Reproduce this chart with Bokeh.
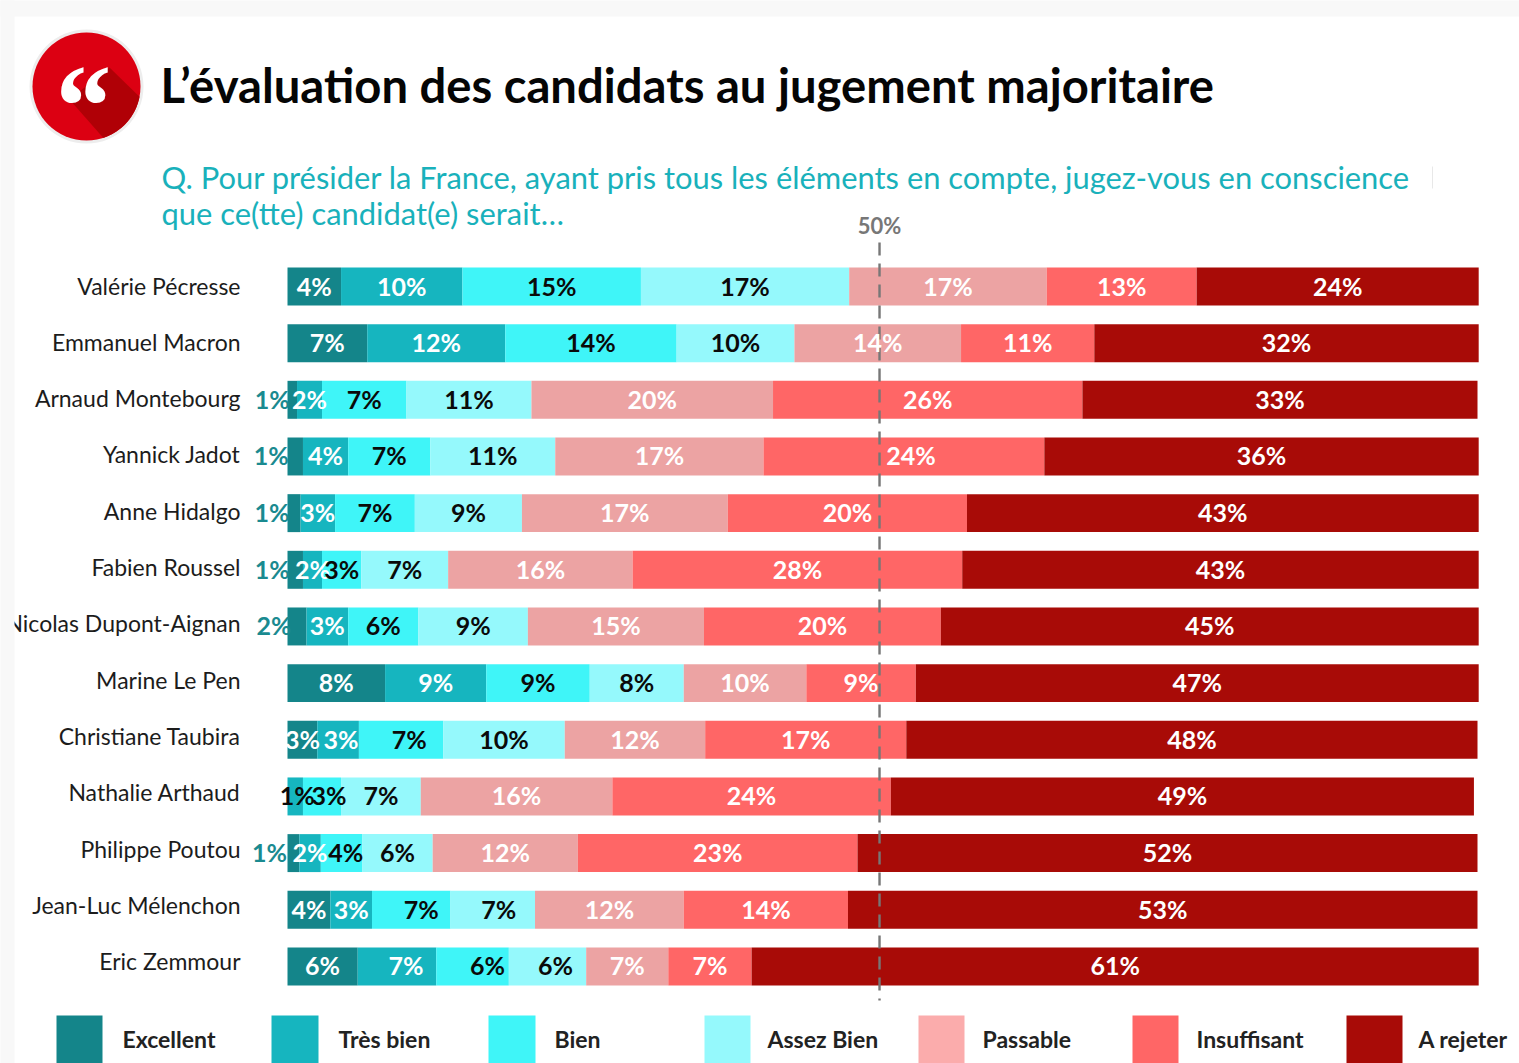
import numpy as np
from bokeh.plotting import figure
from bokeh.models import Range1d
from bokeh.core.properties import value
from bokeh.embed import file_html
from bokeh.resources import INLINE

title = "L’évaluation des candidats au jugement majoritaire"
question = ["Q. Pour présider la France, ayant pris tous les éléments en compte, jugez-vous en conscience",
            "que ce(tte) candidat(e) serait…"]
candidates = ["Valérie Pécresse", "Emmanuel Macron", "Arnaud Montebourg", "Yannick Jadot", "Anne Hidalgo",
              "Fabien Roussel", "Nicolas Dupont-Aignan", "Marine Le Pen", "Christiane Taubira",
              "Nathalie Arthaud", "Philippe Poutou", "Jean-Luc Mélenchon", "Eric Zemmour"]
grades = ["Excellent", "Très bien", "Bien", "Assez Bien", "Passable", "Insuffisant", "A rejeter"]
# segment lengths (percent of bar length)
excellent = [4.5, 6.7, 0.8, 1.3, 1.1, 1.3, 1.6, 8.2, 2.5, 0.0, 1.0, 3.6, 5.9]
tres_bien = [10.2, 11.6, 2.1, 3.8, 2.9, 1.6, 3.5, 8.5, 3.5, 1.3, 1.8, 3.5, 6.6]
bien = [15.0, 14.4, 7.1, 6.9, 6.7, 3.3, 5.9, 8.7, 7.1, 3.2, 3.5, 6.6, 6.1]
assez_bien = [17.5, 9.9, 10.5, 10.5, 9.0, 7.3, 9.2, 7.9, 10.2, 6.7, 5.9, 7.1, 6.5]
passable = [16.6, 14.0, 20.3, 17.5, 17.3, 15.5, 14.8, 10.3, 11.8, 16.1, 12.2, 12.5, 6.9]
insuffisant = [12.6, 11.2, 26.0, 23.6, 20.1, 27.7, 19.9, 9.2, 16.9, 23.4, 23.5, 13.8, 7.0]
a_rejeter = [23.7, 32.3, 33.2, 36.5, 43.0, 43.4, 45.2, 47.3, 48.0, 49.0, 52.1, 52.9, 61.1]
# printed labels
lab_excellent = [4, 7, 1, 1, 1, 1, 2, 8, 3, None, 1, 4, 6]
lab_tres_bien = [10, 12, 2, 4, 3, 2, 3, 9, 3, 1, 2, 3, 7]
lab_bien = [15, 14, 7, 7, 7, 3, 6, 9, 7, 3, 4, 7, 6]
lab_assez_bien = [17, 10, 11, 11, 9, 7, 9, 8, 10, 7, 6, 7, 6]
lab_passable = [17, 14, 20, 17, 17, 16, 15, 10, 12, 16, 12, 12, 7]
lab_insuffisant = [13, 11, 26, 24, 20, 28, 20, 9, 17, 24, 23, 14, 7]
lab_a_rejeter = [24, 32, 33, 36, 43, 43, 45, 47, 48, 49, 52, 53, 61]

series = [excellent, tres_bien, bien, assez_bien, passable, insuffisant, a_rejeter]
labels = [lab_excellent, lab_tres_bien, lab_bien, lab_assez_bien, lab_passable, lab_insuffisant, lab_a_rejeter]
bar_colors = ["#14858A", "#16B5BF", "#3FF5F8", "#95F9FC", "#ECA3A3", "#FF6666", "#A80B07"]
legend_colors = ["#14858A", "#16B5BF", "#3FF5F8", "#95F9FC", "#FBACAC", "#FF6666", "#A80B07"]
text_colors = ["white", "white", "#0A0A0A", "#0A0A0A", "white", "white", "white"]

# label placement corrections (row, segment) -> pixels
label_shift = {(2, 0): -20, (3, 0): -24, (3, 5): 7, (4, 0): -22, (5, 0): -23, (6, 0): -23,
               (8, 1): 3, (8, 2): 8, (9, 1): 2, (9, 2): 7, (10, 0): -24, (10, 2): 4,
               (11, 2): 10, (11, 3): 6, (12, 1): 9, (12, 2): 15, (12, 3): 8}
label_color = {(2, 0): "#1A8A90", (3, 0): "#1A8A90", (4, 0): "#1A8A90", (5, 0): "#1A8A90", (6, 0): "#1A8A90",
               (10, 0): "#1A8A90", (9, 1): "#0A0A0A"}

W, H = 1519, 1063
PX = 11.9        # pixels per percent
X0, Y0, STEP = 288, 287, 56.66
def X(px): return (px - X0) / PX
def Y(py): return (py - Y0) / STEP

p = figure(width=W, height=H, output_backend="svg", toolbar_location=None,
           x_range=Range1d(X(1), X(W + 1)), y_range=Range1d(Y(H + 1), Y(1)),
           min_border=0, outline_line_color=None, background_fill_color="white", border_fill_color="white")
p.axis.visible = False
p.grid.visible = False

LAT = value("Lato")
# bars
for s in range(7):
    left = [sum(series[k][r] for k in range(s)) for r in range(13)]
    right = [left[r] + series[s][r] for r in range(13)]
    p.hbar(y=list(range(13)), left=left, right=right, height=0.67, color=bar_colors[s], line_color=None)

# 50 % line
p.line([49.75, 49.75], [Y(243), Y(1001)], line_color="#777777", line_width=2.4, line_dash="13 8")
p.text([49.75], [Y(226)], text=["50%"], text_font=LAT, text_font_style="bold", text_font_size="22px",
       text_color="#777777", text_align="center", text_baseline="middle")

# value labels
xs, ys, ts, cs, ofs = [], [], [], [], []
for s in range(7):
    for r in range(13):
        if labels[s][r] is None:
            continue
        left = sum(series[k][r] for k in range(s))
        xs.append(left + series[s][r] / 2); ys.append(r)
        ts.append(f"{labels[s][r]}%")
        cs.append(label_color.get((r, s), text_colors[s]))
        ofs.append(label_shift.get((r, s), 0))
p.text(xs, ys, text=ts, text_color=cs, x_offset=ofs, y_offset=-1, text_font=LAT, text_font_style="bold",
       text_font_size="25px", text_align="center", text_baseline="middle")

# candidate names (their rows are set slightly tighter than the bars)
p.text([X(241)] * 13, list(range(13)), text=candidates, text_font=LAT, text_font_size="23px",
       y_offset=[-1 - 0.33 * r for r in range(13)],
       text_color="#1C1C1C", text_align="right", text_baseline="middle")

# logo
p.scatter([X(87)], [Y(87)], size=114, color="#EDEDED", line_color=None)
p.scatter([X(87)], [Y(87)], size=108, color="#DC0012", line_color=None)
th = np.linspace(np.radians(11), np.radians(72), 40)
sx = [70, 110] + list(87 + 54 * np.cos(th)) + [70]
sy = [100, 68] + list(87 + 54 * np.sin(th)) + [100]
p.patch([X(v) for v in sx], [Y(v) for v in sy], color="#B00006", line_color=None)
p.text([X(80)], [Y(107)], text=["“"], text_font=value("Liberation Serif"), text_font_style="bold italic",
       text_font_size="118px", text_color="white", text_align="center", text_baseline="middle")

# heading
p.text([X(161)], [Y(85)], text=[title], text_font=LAT, text_font_style="bold", text_font_size="47.2px",
       text_color="#050505", text_align="left", text_baseline="middle")
p.text([X(162), X(162)], [Y(178), Y(214)], text=question, text_font=LAT, text_font_size="30.9px",
       text_color="#19B1BB", text_align="left", text_baseline="middle")
p.line([X(1433), X(1433)], [Y(167), Y(189)], line_color="#E8E8E8", line_width=1)

# legend
sw_left = [57, 272, 489, 705, 919, 1133, 1347]
sw_right = [103, 319, 536, 751, 965, 1179, 1403]
tx_left = [123, 339, 555, 768, 983, 1197, 1419]
p.quad(left=[X(v) for v in sw_left], right=[X(v) for v in sw_right], top=[Y(1016)] * 7, bottom=[Y(1064)] * 7,
       color=legend_colors, line_color=None)
p.text([X(v) for v in tx_left], [Y(1039)] * 7, text=grades, text_font=LAT, text_font_style="bold",
       text_font_size="23px", text_color="#222222", text_align="left", text_baseline="middle")

# pale page band of the screenshot
p.quad(left=[X(0), X(0)], right=[X(15), X(W + 1)], top=[Y(0), Y(0)], bottom=[Y(H + 1), Y(17)],
       color="#F8F8F8", line_color=None)

open("out.html", "w").write(file_html(p, INLINE))
